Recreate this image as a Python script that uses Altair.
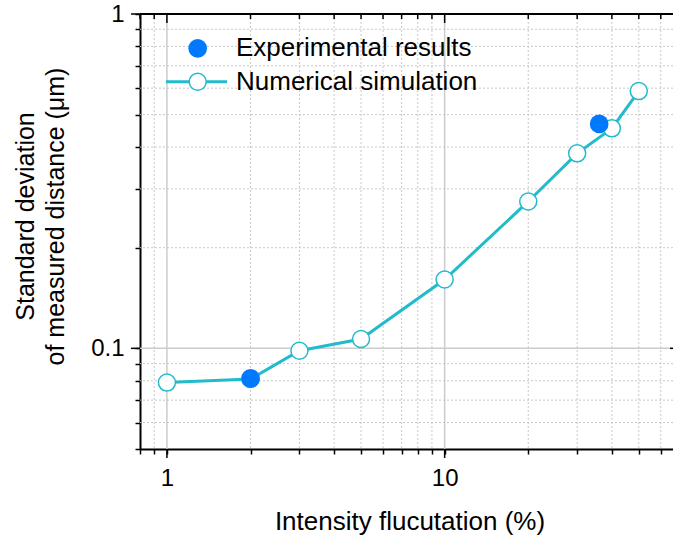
import altair as alt
import pandas as pd

# ---- data ----
x_sim = [1, 2, 3, 5, 10, 20, 30, 40, 50]
y_sim = [0.079, 0.081, 0.0984, 0.1066, 0.1606, 0.275, 0.383, 0.455, 0.588]
x_exp = [2, 36]
y_exp = [0.0813, 0.469]

x_ticks = [0.8, 0.9, 1, 2, 3, 4, 5, 6, 7, 8, 9, 10, 20, 30, 40, 50, 60]
x_major = [1, 10]
x_minor_grid = [0.9, 2, 3, 4, 5, 6, 7, 8, 9, 20, 30, 40, 50, 60]
y_ticks = [0.05, 0.06, 0.07, 0.08, 0.09, 0.1, 0.2, 0.3, 0.4, 0.5, 0.6, 0.7, 0.8, 0.9, 1]
y_major = [0.1, 1]
y_minor_grid = [0.06, 0.07, 0.08, 0.09, 0.2, 0.3, 0.4, 0.5, 0.6, 0.7, 0.8, 0.9]
legend_labels = ["Experimental results", "Numerical simulation"]

FONT = "Liberation Sans"
W, H = 533, 435
TEAL = "#22BBCC"
BLUE = "#0079FF"

sim = pd.DataFrame({"x": x_sim, "y": y_sim})
exp = pd.DataFrame({"x": x_exp, "y": y_exp})

xs = alt.Scale(type="log", domain=[0.8, 66.4], nice=False)
ys = alt.Scale(type="log", domain=[0.05, 1], nice=False)

x_axis = alt.Axis(
    values=x_ticks, grid=False, title="Intensity flucutation (%)",
    labelExpr="datum.value == 1 || datum.value == 10 ? datum.label : ''",
    format="~g", labelFont=FONT, labelFontSize=24, labelColor="black",
    labelPadding=12, titleFont=FONT, titleFontSize=26, titleFontWeight="normal",
    titleColor="black", titleBaseline="alphabetic", titleX=269.5, titleY=80,
    titleAlign="center",
    domainColor="black", domainWidth=2, tickColor="black", tickWidth=1.5,
    tickSize=5,
)
y_axis = alt.Axis(
    values=y_ticks, grid=False,
    title=["Standard deviation", "of measured distance (μm)"],
    labelExpr="datum.value == 0.1 || datum.value == 1 ? datum.label : ''",
    format="~g", labelFont=FONT, labelFontSize=24, labelColor="black",
    labelPadding=11, titleFont=FONT, titleFontSize=25, titleFontWeight="normal",
    titleColor="black", titleBaseline="alphabetic", titleAngle=270,
    titleX=-107, titleY=202, titleAlign="center", titleLineHeight=30,
    domainColor="black", domainWidth=2, tickColor="black", tickWidth=1.5,
    tickSize=5,
)

def X(field):
    return alt.X(field, scale=xs, axis=x_axis)

def Y(field):
    return alt.Y(field, scale=ys, axis=y_axis)

# grid lines
gx_minor = alt.Chart(pd.DataFrame({"v": x_minor_grid})).mark_rule(
    color="#c8c8c8", strokeDash=[2, 2], strokeWidth=1).encode(x=X("v:Q"))
gx_major = alt.Chart(pd.DataFrame({"v": x_major})).mark_rule(
    color="#cccccc", strokeWidth=1.5).encode(x=X("v:Q"))
gy_minor = alt.Chart(pd.DataFrame({"v": y_minor_grid})).mark_rule(
    color="#c8c8c8", strokeDash=[2, 2], strokeWidth=1).encode(y=Y("v:Q"))
gy_major = alt.Chart(pd.DataFrame({"v": [0.1]})).mark_rule(
    color="#cccccc", strokeWidth=1.5).encode(y=Y("v:Q"))

# top axis line + inward ticks, longer major ticks
top_line = alt.Chart(pd.DataFrame({"v": [0]})).mark_rule(
    color="black", strokeWidth=2).encode(
    x=alt.value(0), x2=alt.value(W), y=alt.value(0))
top_minor = alt.Chart(pd.DataFrame({"v": [t for t in x_ticks if t not in x_major]})).mark_rule(
    color="black", strokeWidth=1.5).encode(x=X("v:Q"), y=alt.value(0), y2=alt.value(5))
top_major = alt.Chart(pd.DataFrame({"v": x_major})).mark_rule(
    color="black", strokeWidth=1.5).encode(x=X("v:Q"), y=alt.value(0), y2=alt.value(9))
bottom_major = alt.Chart(pd.DataFrame({"v": x_major})).mark_rule(
    color="black", strokeWidth=1.5).encode(x=X("v:Q"), y=alt.value(H), y2=alt.value(H + 9))
left_major = alt.Chart(pd.DataFrame({"v": y_major})).mark_rule(
    color="black", strokeWidth=1.5).encode(y=Y("v:Q"), x=alt.value(-9), x2=alt.value(0))
right_tick = alt.Chart(pd.DataFrame({"v": [0.1]})).mark_rule(
    color="black", strokeWidth=1.5).encode(y=Y("v:Q"), x=alt.value(W - 3), x2=alt.value(W))

# data
line = alt.Chart(sim).mark_line(color=TEAL, strokeWidth=3).encode(x=X("x:Q"), y=Y("y:Q"))
open_pts = alt.Chart(sim).mark_point(
    shape="circle", filled=True, fill="white", stroke=TEAL, strokeWidth=1.5,
    size=290, opacity=1).encode(x=X("x:Q"), y=Y("y:Q"))
exp_pts = alt.Chart(exp).mark_point(
    shape="circle", filled=True, color=BLUE, size=350, opacity=1).encode(x=X("x:Q"), y=Y("y:Q"))

# legend
leg_df = pd.DataFrame({"label": legend_labels})
leg_text1 = alt.Chart(leg_df[leg_df.label == legend_labels[0]]).mark_text(
    align="left", baseline="middle", font=FONT, fontSize=26, color="black").encode(
    text="label:N", x=alt.value(96), y=alt.value(34))
leg_text2 = alt.Chart(leg_df[leg_df.label == legend_labels[1]]).mark_text(
    align="left", baseline="middle", font=FONT, fontSize=26, color="black").encode(
    text="label:N", x=alt.value(96), y=alt.value(67.5))
leg_sym1 = alt.Chart(leg_df.head(1)).mark_point(
    shape="circle", filled=True, color=BLUE, size=350, opacity=1).encode(
    x=alt.value(57.7), y=alt.value(34.3))
leg_line = alt.Chart(leg_df.head(1)).mark_rule(color=TEAL, strokeWidth=3).encode(
    x=alt.value(26), x2=alt.value(87), y=alt.value(67.7))
leg_sym2 = alt.Chart(leg_df.head(1)).mark_point(
    shape="circle", filled=True, fill="white", stroke=TEAL, strokeWidth=1.5,
    size=290, opacity=1).encode(
    x=alt.value(57.7), y=alt.value(67.7))

chart = alt.layer(
    gx_minor, gx_major, gy_minor, gy_major, line,
    open_pts, exp_pts,
    top_line, top_minor, top_major, bottom_major, left_major, right_tick,
    leg_line, leg_sym1, leg_sym2, leg_text1, leg_text2,
).properties(
    width=W, height=H,
    autosize=alt.AutoSizeParams(type="none"),
    padding={"left": 140, "top": 14, "right": 0, "bottom": 88},
    background="white",
).configure_view(stroke=None)

chart.save("out.html", embed_options={"renderer": "svg", "actions": False})
